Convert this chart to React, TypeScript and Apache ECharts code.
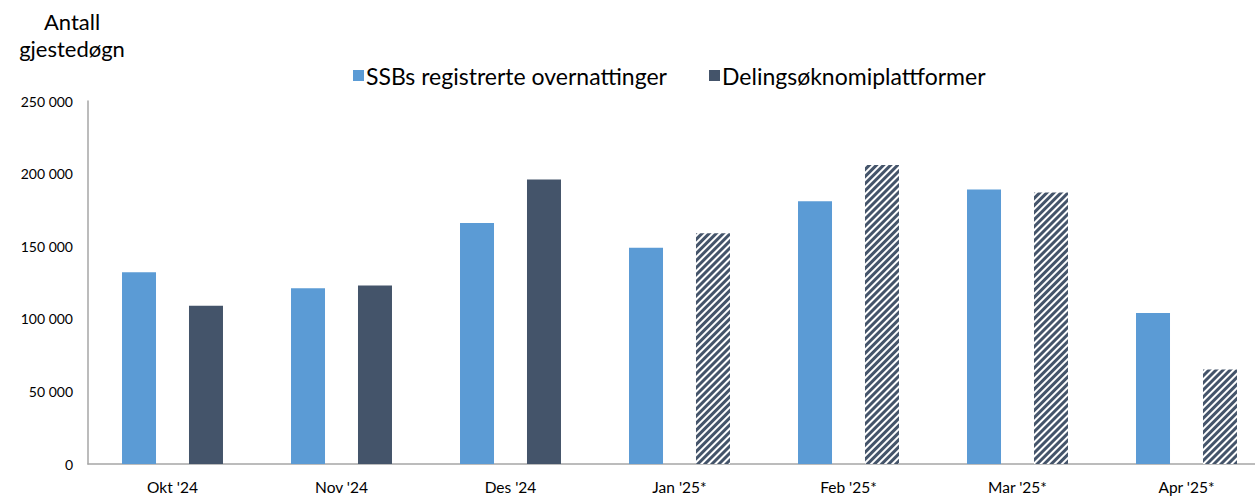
import React, { useEffect, useRef } from "react";
import * as echarts from "echarts";

const categories = ["Okt '24", "Nov '24", "Des '24", "Jan '25*", "Feb '25*", "Mar '25*", "Apr '25*"];
const ssbValues = [132000, 121000, 166000, 149000, 181000, 189000, 104000];
const delingValues = [109000, 123000, 196000, 159000, 206000, 187000, 65000];
const hatchedFromIndex = 3;
const seriesNames = ["SSBs registrerte overnattinger", "Delingsøknomiplattformer"];
const titleLines = ["Antall", "gjestedøgn"];

const FONT = "Lato, 'Noto Sans', sans-serif";
const BLUE = "#5b9bd5";
const DARK = "#44546a";

const fmt = (v: number) => String(v).replace(/\B(?=(\d{3})+(?!\d))/g, " ");

export default function App() {
  const ref = useRef<HTMLDivElement>(null);
  useEffect(() => {
    if (!ref.current) return;
    const chart = echarts.init(ref.current, undefined, { renderer: "svg" });
    const delingData = delingValues.map((v, i) =>
      i >= hatchedFromIndex
        ? {
            value: v,
            itemStyle: {
              color: "#ffffff",
              decal: {
                symbol: "rect",
                symbolSize: 1,
                dashArrayX: [1, 0],
                dashArrayY: [2.6, 1.6],
                rotation: -Math.PI / 4,
                color: DARK,
                backgroundColor: "#ffffff",
              },
            },
          }
        : { value: v }
    );
    chart.setOption({
      animation: false,
      textStyle: { fontFamily: FONT },
      graphic: [
        {
          type: "text",
          x: 72,
          y: 8,
          style: {
            text: titleLines.join("\n"),
            fontFamily: FONT,
            fontSize: 22,
            lineHeight: 27,
            fill: "#000",
            align: "center",
          },
        },
      ],
      legend: {
        top: 59,
        left: 348,
        icon: "rect",
        itemWidth: 11,
        itemHeight: 11,
        itemGap: 42,
        textStyle: { fontFamily: FONT, fontSize: 23, color: "#000", padding: [0, 0, 0, -3] },
        data: seriesNames,
      },
      grid: { left: 88, top: 101, right: 0, height: 363, containLabel: false },
      xAxis: {
        type: "category",
        data: categories,
        axisLine: { lineStyle: { color: "#a6a6a6", width: 1.5 } },
        axisTick: { show: false },
        axisLabel: { fontFamily: FONT, fontSize: 15.5, color: "#000", margin: 15 },
      },
      yAxis: {
        type: "value",
        min: 0,
        max: 250000,
        interval: 50000,
        axisLine: { show: true, lineStyle: { color: "#a6a6a6", width: 1.5 } },
        axisTick: { show: false },
        splitLine: { show: false },
        axisLabel: { fontFamily: FONT, fontSize: 14, color: "#000", margin: 15, formatter: fmt },
      },
      series: [
        {
          name: seriesNames[0],
          type: "bar",
          data: ssbValues,
          barWidth: 34,
          barGap: "97%",
          itemStyle: { color: BLUE },
        },
        {
          name: seriesNames[1],
          type: "bar",
          data: delingData,
          barWidth: 34,
          itemStyle: { color: DARK },
        },
      ],
    });
    return () => chart.dispose();
  }, []);
  return (
    <div
      ref={ref}
      style={{ position: "fixed", left: 0, top: 0, width: 1271, height: 497, background: "#fff" }}
    />
  );
}
